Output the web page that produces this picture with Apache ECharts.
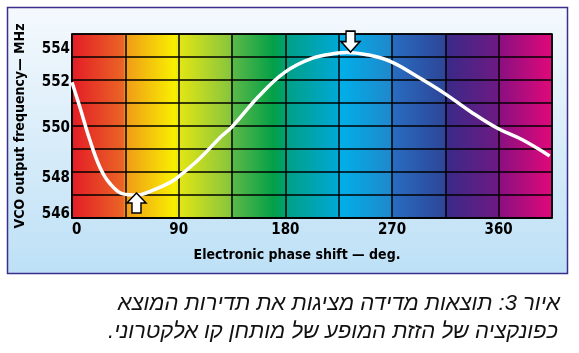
<!DOCTYPE html>
<html>
<head>
<meta charset="utf-8">
<script src="https://cdn.jsdelivr.net/npm/echarts@6/dist/echarts.min.js"></script>
<style>
html,body{margin:0;padding:0;background:#ffffff;}
#chart{width:579px;height:353px;}
</style>
</head>
<body>
<div id="chart"></div>
<script>
// ---- data ----
const phaseDeg = [0, 6.75, 15, 23.6, 32, 43, 55, 68, 83, 90, 108, 125, 135, 157, 180, 203, 224, 232, 250, 269, 292, 314, 337, 359, 380, 403];
const vcoFreq  = [551.9, 550.8, 549.4, 548.2, 547.5, 547.05, 547.0, 547.2, 547.55, 547.8, 548.6, 549.5, 549.96, 551.26, 552.35, 552.95, 553.17, 553.2, 553.09, 552.8, 552.13, 551.43, 550.6, 549.9, 549.4, 548.7];
const xTickLabels = [0, 90, 180, 270, 360];
const yTickLabels = [546, 548, 550, 552, 554];
const minMarker = [54.4, 546.65];   // up arrow (deg, MHz)
const maxMarker = [235, 553.67];    // down arrow (deg, MHz)
const xTitle = 'Electronic phase shift — deg.';
const yTitle = 'VCO output frequency— MHz';
const captionLines = ['איור 3: תוצאות מדידה מציגות את תדירות המוצא', 'כפונקציה של הזזת המופע של מותחן קו אלקטרוני.'];

const FONT = '"Liberation Sans Narrow", "DejaVu Sans Condensed", "Liberation Sans", sans-serif';
const TICK = 15;

const chart = echarts.init(document.getElementById('chart'), null, {renderer: 'canvas'});

const plotGradient = {
  type: 'linear', x: 0, y: 0, x2: 1, y2: 0,
  colorStops: [
    {offset: 0.000, color: '#e31b27'},
    {offset: 0.108, color: '#ea6525'},
    {offset: 0.112, color: '#f09a18'},
    {offset: 0.215, color: '#f8f000'},
    {offset: 0.223, color: '#e4e614'},
    {offset: 0.330, color: '#88c63c'},
    {offset: 0.335, color: '#5cb947'},
    {offset: 0.420, color: '#04a048'},
    {offset: 0.444, color: '#00a070'},
    {offset: 0.450, color: '#00a088'},
    {offset: 0.552, color: '#00a8d4'},
    {offset: 0.558, color: '#00b0e8'},
    {offset: 0.664, color: '#1f88cc'},
    {offset: 0.669, color: '#286cc0'},
    {offset: 0.775, color: '#2e4698'},
    {offset: 0.780, color: '#3a2a88'},
    {offset: 0.885, color: '#6c1a82'},
    {offset: 0.890, color: '#8a1080'},
    {offset: 1.000, color: '#e2087a'}
  ]
};

const yRich = {
  a554: {fontFamily: FONT, fontWeight: 'bold', fontSize: TICK, color: '#000', padding: [30, 0, 0, 0]},
  a552: {fontFamily: FONT, fontWeight: 'bold', fontSize: TICK, color: '#000', padding: [4, 0, 0, 0]},
  a550: {fontFamily: FONT, fontWeight: 'bold', fontSize: TICK, color: '#000', padding: [4, 0, 0, 0]},
  a548: {fontFamily: FONT, fontWeight: 'bold', fontSize: TICK, color: '#000', padding: [12, 0, 0, 0]},
  a546: {fontFamily: FONT, fontWeight: 'bold', fontSize: TICK, color: '#000', padding: [0, 0, 8, 0]}
};

const captionStyle = {fill: '#111', fontSize: 22, fontStyle: 'italic',
                      fontFamily: '"Liberation Sans", Arial, sans-serif',
                      align: 'right', verticalAlign: 'middle'};

const option = {
  animation: false,
  backgroundColor: '#ffffff',
  graphic: [
    {
      type: 'rect', z: -10, silent: true,
      shape: {x: 7.5, y: 7.5, width: 560, height: 266},
      style: {
        fill: {type: 'linear', x: 0, y: 0, x2: 0, y2: 1,
               colorStops: [{offset: 0, color: '#f5f9fd'}, {offset: 1, color: '#bde0f6'}]},
        stroke: '#3b2d8c', lineWidth: 1.5
      }
    },
    {
      type: 'text', z: 10, silent: true,
      style: Object.assign({text: '\u202B' + captionLines[0] + '\u202C', x: 560, y: 304}, captionStyle)
    },
    {
      type: 'text', z: 10, silent: true,
      style: Object.assign({text: '\u202B' + captionLines[1] + '\u202C', x: 558, y: 332}, captionStyle)
    }
  ],
  grid: {
    left: 72, top: 34, width: 480, height: 184,
    show: true, backgroundColor: plotGradient, borderColor: '#000', borderWidth: 1.5,
    containLabel: false
  },
  xAxis: {
    type: 'value', min: 0, max: 405, interval: 45,
    name: xTitle, nameLocation: 'middle', nameGap: 30,
    nameTextStyle: {fontFamily: FONT, fontWeight: 'bold', fontSize: 14, color: '#000', padding: [0, 30, 0, 0]},
    axisLine: {show: true, lineStyle: {color: '#000', width: 1.5}},
    axisTick: {show: false},
    splitLine: {show: true, lineStyle: {color: '#000', width: 1.5}},
    axisLabel: {
      margin: 5, fontFamily: FONT, fontWeight: 'bold', fontSize: TICK, color: '#000',
      alignMinLabel: 'left',
      formatter: function (v) { return xTickLabels.indexOf(v) >= 0 ? String(v) : ''; }
    }
  },
  yAxis: {
    type: 'value', min: 546, max: 554, interval: 1,
    name: yTitle, nameLocation: 'middle', nameGap: 45, nameRotate: 90,
    nameTextStyle: {fontFamily: FONT, fontWeight: 'bold', fontSize: 14, color: '#000'},
    axisLine: {show: true, lineStyle: {color: '#000', width: 1.5}},
    axisTick: {show: false},
    splitLine: {show: true, lineStyle: {color: '#000', width: 1.5}},
    axisLabel: {
      margin: 2, color: '#000', fontFamily: FONT, fontWeight: 'bold', fontSize: TICK,
      rich: yRich,
      formatter: function (v) { return yTickLabels.indexOf(v) >= 0 ? '{a' + v + '|' + v + '}' : ''; }
    }
  },
  series: [{
    type: 'line',
    data: phaseDeg.map((d, i) => [d, vcoFreq[i]]),
    smooth: 0.4,
    showSymbol: false,
    symbol: 'none',
    lineStyle: {color: '#ffffff', width: 3.5},
    markPoint: {
      silent: true,
      label: {show: false},
      itemStyle: {color: '#ffffff', borderColor: '#000', borderWidth: 1.5},
      data: [
        {coord: minMarker, symbol: 'path://M9.5,0 L19,10 L14,10 L14,20 L5,20 L5,10 L0,10 Z', symbolSize: [19, 20]},
        {coord: maxMarker, symbol: 'path://M5,0 L14,0 L14,10 L19,10 L9.5,20 L0,10 L5,10 Z', symbolSize: [19, 21]}
      ]
    }
  }]
};

chart.setOption(option);
</script>
</body>
</html>
